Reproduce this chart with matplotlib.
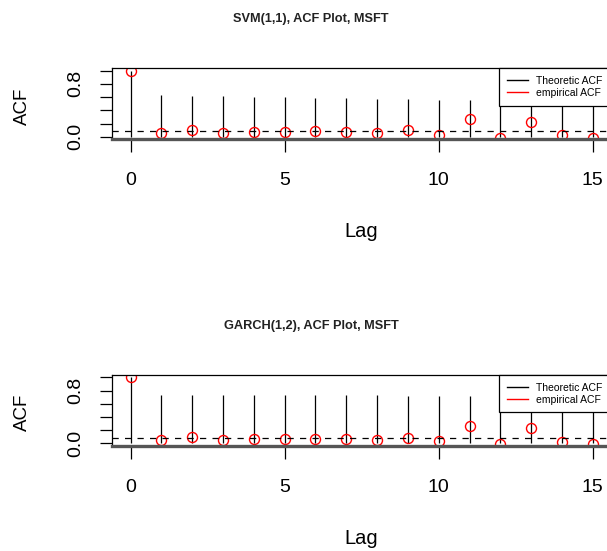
import matplotlib
matplotlib.use("Agg")
import matplotlib.pyplot as plt
import numpy as np

plt.rcParams['font.family'] = ['Liberation Sans', 'DejaVu Sans']

lags = np.arange(16)

# theoretic ACF of each model
svm_theo = [1.0, 0.625, 0.62, 0.61, 0.605, 0.595, 0.59, 0.585, 0.575, 0.57,
            0.56, 0.55, 0.545, 0.535, 0.53, 0.52]
garch_theo = [1.0, 0.735, 0.735, 0.735, 0.733, 0.73, 0.73, 0.728, 0.728, 0.725,
              0.725, 0.72, 0.72, 0.718, 0.716, 0.714]

# empirical ACF of the MSFT series
svm_emp = [1.0, 0.05, 0.10, 0.06, 0.075, 0.065, 0.085, 0.075, 0.05, 0.10,
           0.025, 0.275, -0.015, 0.225, 0.025, -0.015]
garch_emp = [1.0, 0.05, 0.10, 0.05, 0.07, 0.06, 0.07, 0.07, 0.05, 0.09,
             0.03, 0.27, -0.015, 0.23, 0.02, -0.005]

conf_band = 0.09

titles = ["SVM(1,1), ACF Plot, MSFT", "GARCH(1,2), ACF Plot, MSFT"]

W, H = 607, 551
fig = plt.figure(figsize=(W / 100, H / 100), dpi=100)


def acf_panel(top_px, theo, emp, title):
    bot_px = top_px + 71.4
    ax = fig.add_axes([112.2 / W, 1 - bot_px / H, 499 / W, 71.4 / H])
    ax.vlines(lags, 0, theo, color='black', lw=0.9)
    ax.plot(lags, emp, 'o', mfc='none', mec='red', ms=7.2, mew=1.0)
    ax.axhline(conf_band, color='black', lw=0.9, ls=(0, (5, 5)))
    ax.set_xlim(-0.6, 15.6)
    ax.set_ylim(-0.04, 1.04)

    ax.set_xticks([0, 5, 10, 15])
    ax.set_xticklabels(['0', '5', '10', '15'], fontsize=14)
    ax.set_yticks([0.0, 0.2, 0.4, 0.6, 0.8, 1.0])
    ax.set_yticklabels(['0.0', '', '', '', '0.8', ''], fontsize=14,
                       rotation=90, va='center')
    ax.tick_params(axis='x', direction='out', length=9, width=0.9, pad=14.5)
    ax.tick_params(axis='y', direction='out', length=8.6, width=0.9, pad=11.5)

    for side in ['top', 'left', 'right']:
        ax.spines[side].set_linewidth(0.9)
    ax.spines['bottom'].set_color('#555555')
    ax.spines['bottom'].set_linewidth(2.4)

    leg = ax.legend(handles=[plt.Line2D([], [], color='black', lw=1),
                             plt.Line2D([], [], color='red', lw=1)],
                    labels=['Theoretic ACF', 'empirical ACF'],
                    loc='upper left', bbox_to_anchor=(0.775, 1.0),
                    borderaxespad=0, fontsize=7.5, handlelength=2.0,
                    handletextpad=0.85, borderpad=0.75, labelspacing=0.2,
                    fancybox=False, framealpha=1, edgecolor='black')
    leg.get_frame().set_linewidth(0.9)

    fig.text(311 / W, 1 - (top_px - 46) / H, title, ha='center', va='baseline',
             fontsize=9.2, fontweight='bold', color='#222222')
    fig.text(22 / W, 1 - (top_px + 38) / H, 'ACF', rotation=90, ha='center',
             va='center', fontsize=13.5)
    fig.text(361 / W, 1 - (top_px + 169) / H, 'Lag', ha='center',
             va='baseline', fontsize=14.5)
    return ax


acf_panel(68, svm_theo, svm_emp, titles[0])
acf_panel(374.7, garch_theo, garch_emp, titles[1])

fig.savefig('out.png', dpi=100)
